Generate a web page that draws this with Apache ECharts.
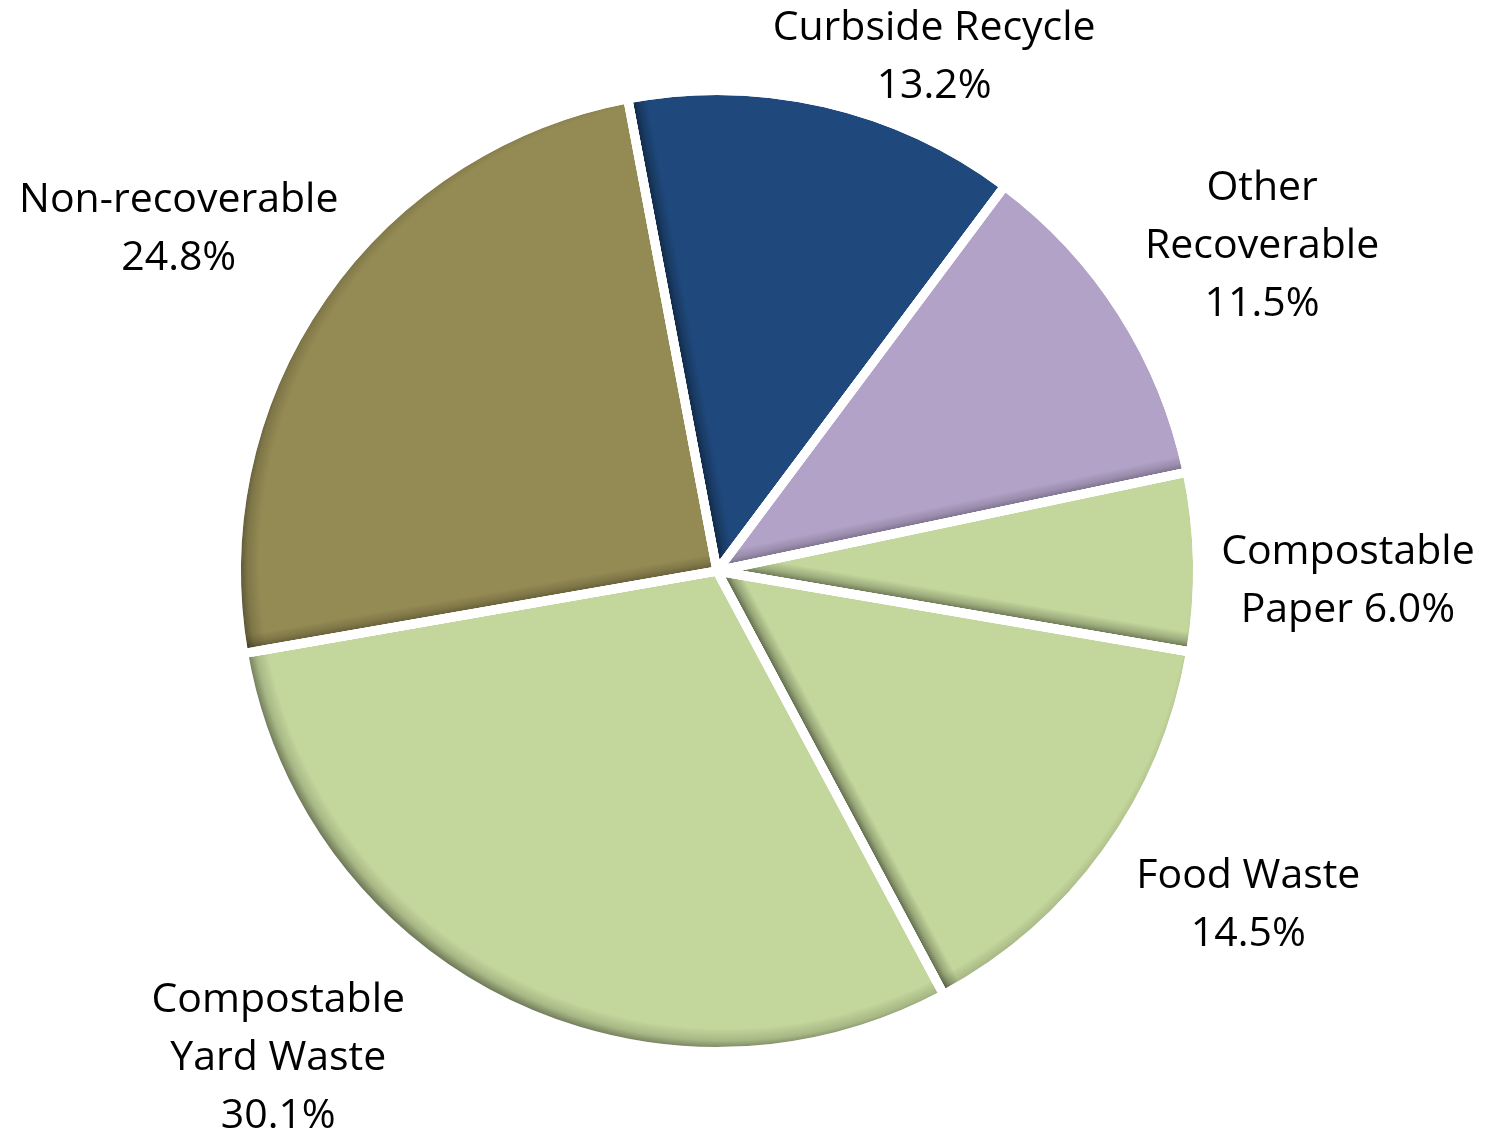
<!DOCTYPE html>
<html>
<head>
<meta charset="utf-8">
<script src="https://cdn.jsdelivr.net/npm/echarts@6/dist/echarts.min.js"></script>
<style>
html,body{margin:0;padding:0;background:#ffffff;}
#chart{width:1487px;height:1137px;}
</style>
</head>
<body>
<div id="chart"></div>
<script>
// ---- data ----
const categories = ['Curbside Recycle', 'Other Recoverable', 'Compostable Paper', 'Food Waste', 'Compostable Yard Waste', 'Non-recoverable'];
const values = [13.2, 11.5, 6.0, 14.5, 30.1, 24.8];

// ---- style / layout ----
const labelTemplates = ['Curbside Recycle\n#', 'Other\nRecoverable\n#', 'Compostable\nPaper #', 'Food Waste\n#', 'Compostable\nYard Waste\n#', 'Non-recoverable\n#'];
const sliceColors = ['#1F497D', '#B2A2C7', '#C3D69B', '#C3D69B', '#C3D69B', '#948A54'];
const CX = 717, CY = 571, GAP = 9, RV = 476, START = 100.7;
const R = RV + GAP / 2;
const SHADOW_DIR = -135;   // direction the edge shadow faces (degrees)
const SHADOW_LEN = 16;     // px
// label centre: [angle in degrees, distance from pie centre]
const labelSpots = [[67.1, 558], [30.8, 634.6], [-0.9, 631], [-32.2, 627.9], [-132.0, 655.7], [147.6, 637.5]];

function shade(hex, f) {
  const n = parseInt(hex.slice(1), 16);
  const r = Math.round(((n >> 16) & 255) * f), g = Math.round(((n >> 8) & 255) * f), b = Math.round((n & 255) * f);
  return 'rgb(' + r + ',' + g + ',' + b + ')';
}
const rad = d => d * Math.PI / 180;

// inner-shadow gradient along the radial edge facing the shadow direction
function sliceFill(i) {
  const total = values.reduce((a, b) => a + b, 0);
  let a0 = START;
  for (let k = 0; k < i; k++) a0 -= values[k] / total * 360;
  const a1 = a0 - values[i] / total * 360;
  const normals = [a0 + 90, a1 - 90];
  let best = -1, s = 0;
  normals.forEach(nrm => {
    const c = Math.cos(rad(nrm - SHADOW_DIR));
    if (c > s) { s = c; best = nrm; }
  });
  const base = sliceColors[i];
  if (s < 0.2) return base;
  const inward = best + 180;
  const vx = Math.cos(rad(inward)), vy = -Math.sin(rad(inward));
  const g = GAP / 2;
  const len = SHADOW_LEN * (0.6 + 0.4 * s);
  return {
    type: 'linear', global: true,
    x: CX + g * vx, y: CY + g * vy,
    x2: CX + (g + len) * vx, y2: CY + (g + len) * vy,
    colorStops: [
      { offset: 0, color: shade(base, 1 - 0.52 * s) },
      { offset: 0.4, color: shade(base, 1 - 0.24 * s) },
      { offset: 1, color: base }
    ]
  };
}

const OFF = 12;
const rimR = RV + OFF;
const rimShadow = {
  type: 'radial', global: true,
  x: CX + OFF * Math.cos(rad(45)), y: CY - OFF * Math.sin(rad(45)), r: rimR,
  colorStops: [
    { offset: 0, color: 'rgba(0,0,0,0)' },
    { offset: (rimR - 22) / rimR, color: 'rgba(0,0,0,0)' },
    { offset: (rimR - 10) / rimR, color: 'rgba(0,0,0,0.14)' },
    { offset: 1, color: 'rgba(0,0,0,0.45)' }
  ]
};

const chart = echarts.init(document.getElementById('chart'), null, { renderer: 'canvas' });
chart.setOption({
  animation: false,
  backgroundColor: '#ffffff',
  series: [
    {
      type: 'pie',
      z: 2,
      center: [CX, CY],
      radius: R,
      startAngle: START,
      clockwise: true,
      avoidLabelOverlap: false,
      data: values.map((v, i) => ({ name: categories[i], value: v, itemStyle: { color: sliceFill(i) } })),
      itemStyle: { borderColor: '#ffffff', borderWidth: GAP, borderJoin: 'round' },
      label: {
        show: true,
        position: 'outside',
        formatter: p => labelTemplates[p.dataIndex].replace('#', p.value.toFixed(1) + '%'),
        fontFamily: 'Open Sans',
        fontSize: 41,
        lineHeight: 58,
        color: '#000000'
      },
      labelLine: { show: false },
      labelLayout: p => {
        const s = labelSpots[p.dataIndex];
        const a = rad(s[0]);
        return { x: CX + s[1] * Math.cos(a), y: CY - s[1] * Math.sin(a), align: 'center', verticalAlign: 'middle' };
      },
      emphasis: { disabled: true }
    },
    {
      // darkened rim (inner shadow on the lower-left outer edge)
      type: 'pie',
      z: 3,
      silent: true,
      center: [CX, CY],
      radius: R,
      startAngle: START,
      clockwise: true,
      data: values.map((v, i) => ({ name: categories[i], value: v })),
      itemStyle: { color: rimShadow, borderColor: '#ffffff', borderWidth: GAP, borderJoin: 'round' },
      label: { show: false },
      labelLine: { show: false },
      emphasis: { disabled: true }
    }
  ]
});
</script>
</body>
</html>
